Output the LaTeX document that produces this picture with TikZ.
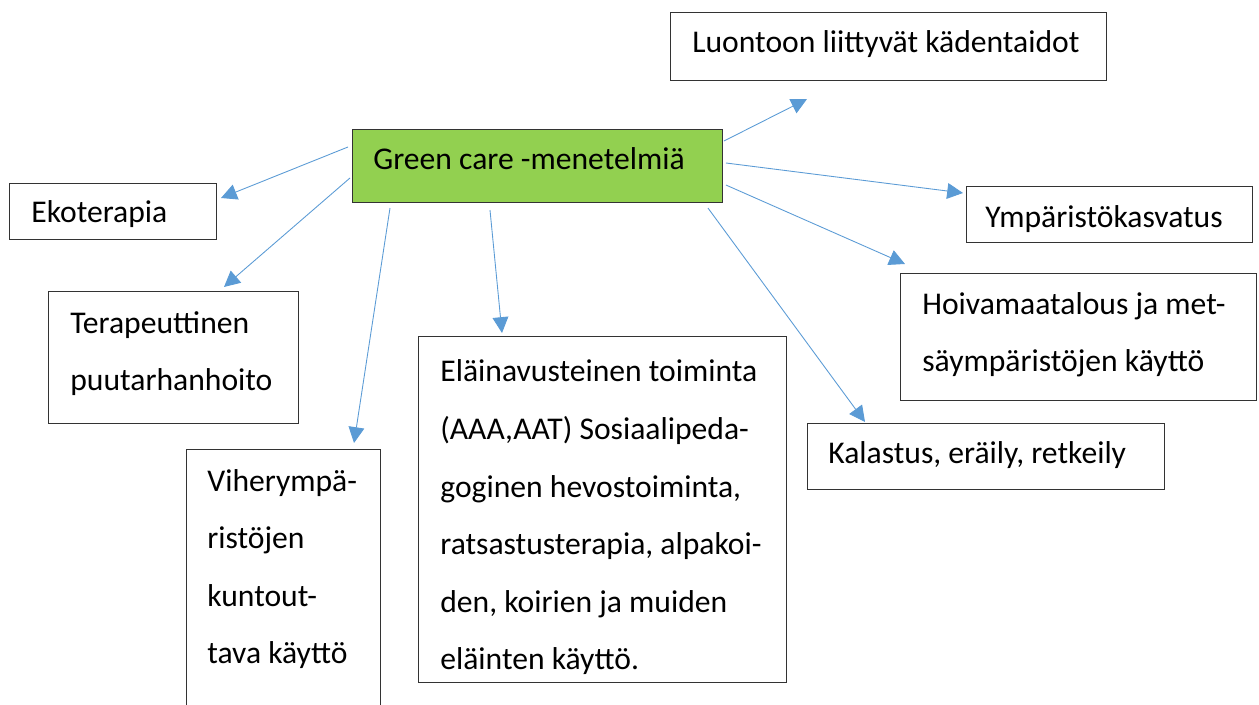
\documentclass[tikz,border=0pt]{standalone}
\usepackage{fontspec}
\setmainfont{Carlito}
\usepackage{xcolor}
\usetikzlibrary{arrows.meta}
\definecolor{careGreen}{HTML}{92D050}
\definecolor{linkBlue}{HTML}{5B9BD5}

\begin{document}
\begin{tikzpicture}[x=0.02cm, y=-0.02cm,
    box/.style={draw=black!80, line width=0.6pt, inner sep=0pt, anchor=north west},
    txt/.style={anchor=base west, inner sep=0pt, align=left, font=\fontsize{18}{32.8}\selectfont},
    link/.style={draw=linkBlue, line width=0.5pt, -{Triangle[length=9pt, width=9pt]}}]
    \useasboundingbox (0,0) rectangle (1259,705);

    % Central box
    \node[box, fill=careGreen, minimum width=7.4cm, minimum height=1.46cm] (gc) at (352,129) {};
    \node[txt] (gc-t) at ([shift={(21,41)}]gc.north west) {Green care -menetelmiä};

    % Method boxes (multi-line texts sit on their last baseline)
    \node[box, minimum width=8.72cm, minimum height=1.36cm] (luonto) at (670,12) {};
    \node[txt] (luonto-t) at ([shift={(22,41)}]luonto.north west) {Luontoon liittyvät kädentaidot};

    \node[box, minimum width=4.14cm, minimum height=1.12cm] (eko) at (9,183) {};
    \node[txt] (eko-t) at ([shift={(22,40)}]eko.north west) {Ekoterapia};

    \node[box, minimum width=5cm, minimum height=2.64cm] (tera) at (48,291) {};
    \node[txt] (tera-t) at ([shift={(22,100)}]tera.north west) {Terapeuttinen\\puutarhanhoito};

    \node[box, minimum width=3.88cm, minimum height=6cm] (viher) at (186,449) {};
    \node[txt] (viher-t) at ([shift={(21,215)}]viher.north west) {Viherympä-\\ristöjen\\kuntout-\\tava käyttö};

    \node[box, minimum width=7.36cm, minimum height=6.92cm] (elain) at (418,336) {};
    \node[txt] (elain-t) at ([shift={(22,334)}]elain.north west) {Eläinavusteinen toiminta\\(AAA,AAT) Sosiaalipeda-\\goginen hevostoiminta,\\ratsastusterapia, alpakoi-\\den, koirien ja muiden\\eläinten käyttö.};

    \node[box, minimum width=7.12cm, minimum height=2.54cm] (hoiva) at (900,273) {};
    \node[txt] (hoiva-t) at ([shift={(22,99)}]hoiva.north west) {Hoivamaatalous ja met-\\säympäristöjen käyttö};

    \node[box, minimum width=7.14cm, minimum height=1.32cm] (kala) at (807,423) {};
    \node[txt] (kala-t) at ([shift={(21,41)}]kala.north west) {Kalastus, eräily, retkeily};

    \node[box, minimum width=5.72cm, minimum height=1.12cm] (ymp) at (966,186) {};
    \node[txt] (ymp-t) at ([shift={(19,42)}]ymp.north west) {Ympäristökasvatus};

    % Arrows out of the central box
    \draw[link] ([shift={(1,12)}]gc.north east) -- ([shift={(137,18)}]luonto.south west);
    \draw[link] ([shift={(-4,18)}]gc.north west) -- ([shift={(4,15)}]eko.north east);
    \draw[link] ([shift={(-2,49)}]gc.north west) -- ([shift={(176,-4)}]tera.north west);
    \draw[link] ([shift={(38,5)}]gc.south west) -- ([shift={(-27,-6)}]viher.north east);
    \draw[link] ([shift={(138,7)}]gc.south west) -- ([shift={(84,-3)}]elain.north west);
    \draw[link] ([shift={(-15,5)}]gc.south east) -- ([shift={(58,-1)}]kala.north west);
    \draw[link] ([shift={(3,-18)}]gc.south east) -- ([shift={(5,-9)}]hoiva.north west);
    \draw[link] ([shift={(3,34)}]gc.north east) -- ([shift={(-3,7)}]ymp.north west);

\end{tikzpicture}
\end{document}
